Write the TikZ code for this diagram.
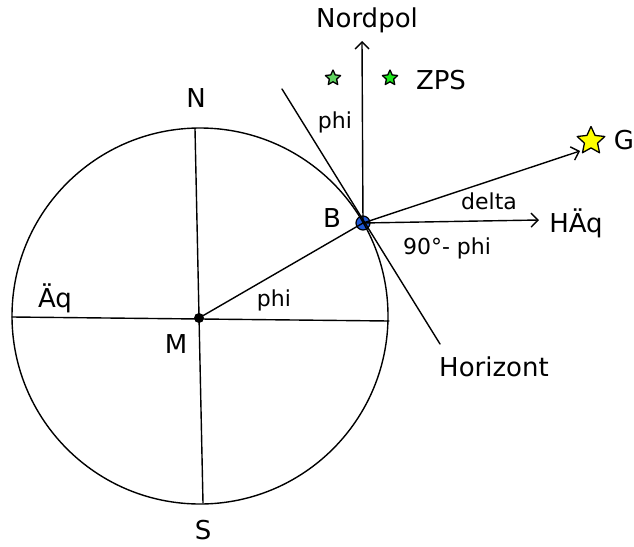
\documentclass[tikz,border=0pt]{standalone}
\usepackage{fontspec}
\setmainfont{DejaVu Sans}
\usetikzlibrary{arrows.meta,shapes.geometric}
\definecolor{starGreen}{HTML}{5FD35F}
\definecolor{zpsGreen}{HTML}{1CE61C}
\definecolor{sunYellow}{HTML}{FFFF00}
\definecolor{obsBlue}{HTML}{1F57D6}

\begin{document}
\begin{tikzpicture}[x=1pt, y=-1pt, line cap=round, line join=round,
    axis/.style={line width=1.4pt},
    ray/.style={line width=1.4pt, -{Straight Barb[length=7pt,width=14pt,line width=1.4pt]}},
    biglabel/.style={font=\fontsize{26}{31}\selectfont, inner sep=0pt},
    anglabel/.style={font=\fontsize{22}{26}\selectfont, inner sep=0pt},
    starmark/.style={star, star points=5, star point ratio=2.1, draw=black,
      line width=1.3pt, inner sep=0pt}]
  \useasboundingbox (0,0) rectangle (634,546);
  \coordinate (M) at (199,318);
  \coordinate (B) at (363,223);
  % Observer (lines run over it)
  \draw[line width=1.2pt, fill=obsBlue] (B) circle (7);
  % Earth
  \draw[axis] (200,316) circle (188);
  % Axis and equator
  \coordinate (Ntop) at (195,129);
  \coordinate (Sbot) at (203,503);
  \coordinate (Qleft) at (12,317);
  \coordinate (Qright) at (389,321);
  \draw[axis] (Ntop) -- (Sbot);
  \draw[axis] (Qleft) -- (Qright);
  \draw[axis] (M) -- (B);
  % Horizon tangent at B
  \coordinate (Htop) at (282,89);
  \coordinate (Hbot) at (440,344);
  \draw[axis] (Htop) -- (Hbot);
  % Directions from B
  \coordinate (Pol) at (362,41);
  \coordinate (Haq) at (539,220);
  \coordinate (Gdir) at (580,151);
  \draw[ray] (B) -- (Pol);
  \draw[ray] (B) -- (Haq);
  \draw[ray] (B) -- (Gdir);
  \fill[black] (M) circle (5);
  % Stars
  \node[starmark, fill=starGreen, minimum size=16pt] (star1) at (333,78) {};
  \node[starmark, fill=zpsGreen, minimum size=16pt] (star2) at (390,78) {};
  \node[starmark, fill=sunYellow, minimum size=29pt] (sun) at (591,141) {};
  % Labels
  \node[biglabel] (lNordpol) at (367,20) {Nordpol};
  \node[biglabel] (lZPS) at (441,80) {ZPS};
  \node[biglabel] (lG) at (624,140) {G};
  \node[biglabel] (lHAq) at (576,223) {HÄq};
  \node[biglabel] (lB) at (332,218) {B};
  \node[biglabel] (lHorizont) at (494,367) {Horizont};
  \node[biglabel] (lN) at (196,98) {N};
  \node[biglabel] (lS) at (203,530) {S};
  \node[biglabel] (lM) at (176,344) {M};
  \node[biglabel] (lAq) at (55,298) {Äq};
  \node[anglabel] (aphi1) at (274,300) {phi};
  \node[anglabel] (aphi2) at (335,122) {phi};
  \node[anglabel] (adelta) at (489,201) {delta};
  \node[anglabel] (acolat) at (447,248) {90°- phi};
\end{tikzpicture}
\end{document}
